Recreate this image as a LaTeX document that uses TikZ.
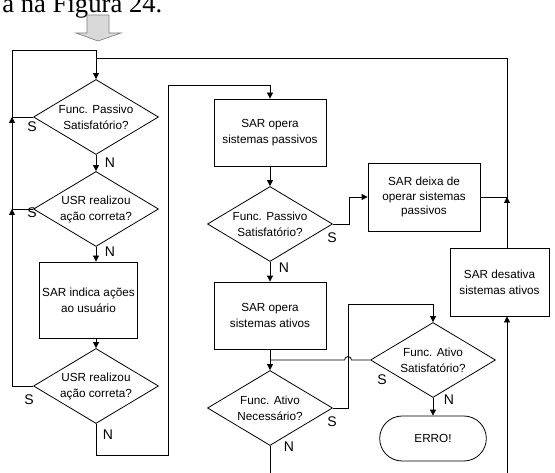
\documentclass[tikz,border=0pt]{standalone}
\usepackage{fontspec}
\setmainfont{Liberation Sans}
\newfontfamily\textserif{Liberation Serif}
\usetikzlibrary{arrows.meta,positioning,shapes.geometric,shapes.misc}

\begin{document}
\begin{tikzpicture}[x=0.75pt,y=-0.75pt,line width=0.6pt,font=\fontsize{8.8}{12}\selectfont]
\tikzset{dec/.style={diamond,draw,fill=white,inner sep=0pt,minimum width=93.75pt,minimum height=56.25pt},dtext/.style={align=center,inner sep=0pt},act/.style={draw,fill=white,align=center,minimum width=84pt,minimum height=50.25pt,inner sep=2pt},yn/.style={font=\fontsize{10.5}{12}\selectfont,inner sep=0pt},arr/.style={-{Triangle[length=4.5pt,width=4.5pt]}}}
\useasboundingbox (0,0) rectangle (555,473);
\clip (0,0) rectangle (555,473);
% caption fragment and entry arrow
\node[anchor=base west,inner sep=0pt,font=\textserif\fontsize{20}{24}\selectfont] (cap) at (2,13) {a na Figura 24.};
\draw[gray,fill=gray!30,line width=0.5pt] (87,15) -- (109,15) -- (109,33) -- (121,33) -- (98,41) -- (76,33) -- (87,33) -- cycle;
% left column
\node[dec] (d1) at (96,117) {};
\node[dtext] (d1t) at (d1) {Func. Passivo\\Satisfatório?};
\node[dec] (d2) at (96,209) {};
\node[dtext] (d2t) at (d2) {USR realizou\\ação correta?};
\node[act,minimum width=72.75pt,minimum height=57pt] (b1) at (88.5,300) {SAR indica ações\\ao usuário};
\node[dec] (d4) at (96,386) {};
\node[dtext] (d4t) at (d4) {USR realizou\\ação correta?};
% middle column
\node[act] (b2) at (270,132.5) {SAR opera\\sistemas passivos};
\node[dec] (d5) at (270,224) {};
\node[dtext] (d5t) at (d5) {Func. Passivo\\Satisfatório?};
\node[act] (b4) at (270,315.5) {SAR opera\\sistemas ativos};
\node[dec] (d6) at (270,408) {};
\node[dtext] (d6t) at (d6) {Func. Ativo\\Necessário?};
% right column
\node[act,minimum height=51pt,font=\fontsize{8.8}{11}\selectfont] (b3) at (424,197) {SAR deixa de\\operar sistemas\\passivos};
\node[dec] (d7) at (433,360) {};
\node[dtext] (d7t) at (d7) {Func. Ativo\\Satisfatório?};
\node[act,rounded rectangle,minimum height=33.75pt] (e) at (433,438.5) {ERRO!};
\node[act,minimum width=74.25pt,minimum height=51pt] (b5) at (499.5,282) {SAR desativa\\sistemas ativos};
% bends
\coordinate (tl) at (12,50);
\coordinate (j1) at (96,58);
\coordinate (r1) at (507,58);
\coordinate (m1) at (168,455);
\coordinate (m2) at (168,85);
\coordinate (h1) at (348,304);
\coordinate (bl) at (270,473);
\coordinate (br) at (507,473);
% connectors
\draw[arr] (d1.south) -- (d2.north);
\draw[arr] (d2.south) -- (d2.south |- b1.north);
\draw[arr] (d2.south |- b1.south) -- (d4.north);
\draw[arr] (d4.west) -| (d2.west -| tl);
\draw[arr] (d2.west) -| (d1.west -| tl);
\draw (d1.west) -| (tl) -| (j1);
\draw[arr] (d4.south) |- (m1) -- (m2) -| (b2.north);
\draw[arr] (b2.south) -- (d5.north);
\draw[arr] (d5.east) -- ++(16,0) |- (b3.west);
\draw[arr] (d5.south) -- (b4.north);
\draw[arr] (b4.south) -- (d6.north);
\draw (d7.west) -- (351.5,360) arc[start angle=0,end angle=180,radius=2.6pt] -- (b4.south |- d7.west);
\draw[arr] (d6.east) -| (h1) -| (d7.north);
\draw[arr] (d7.south) -- (e.north);
\draw (d6.south) -- (bl);
\draw[arr] (br) -- (b5.south -| r1);
\draw[arr] (b5.north -| r1) -- (b3.east -| r1);
\draw[arr] (b3.east) -- (b3.east -| r1) -- (r1) -| (d1.north);
% branch labels
\node[yn] (s1) at (32,127) {S}; \node[yn] (n1) at (110,163) {N};
\node[yn] (s2) at (32,213) {S}; \node[yn] (n2) at (110,252) {N};
\node[yn] (s4) at (29,400) {S}; \node[yn] (n4) at (108,435) {N};
\node[yn] (s5) at (332,238) {S}; \node[yn] (n5) at (284,268) {N};
\node[yn] (s6) at (332,422) {S}; \node[yn] (n6) at (289,447) {N};
\node[yn] (s7) at (382,380) {S}; \node[yn] (n7) at (449,400) {N};
\end{tikzpicture}
\end{document}
